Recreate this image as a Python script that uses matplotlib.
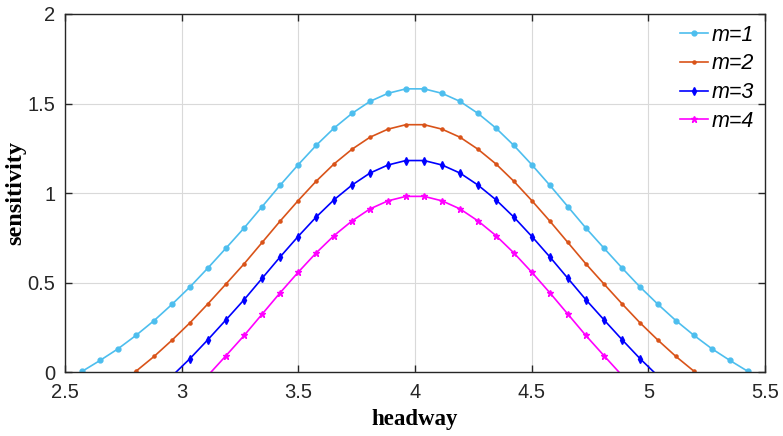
import matplotlib
matplotlib.use('Agg')
import matplotlib.pyplot as plt
import numpy as np

headway = [2.574, 2.651, 2.728, 2.805, 2.882, 2.959, 3.036, 3.113, 3.190, 3.268,
           3.345, 3.422, 3.499, 3.576, 3.653, 3.730, 3.807, 3.884, 3.961, 4.039,
           4.116, 4.193, 4.270, 4.347, 4.424, 4.501, 4.578, 4.655, 4.732, 4.810,
           4.887, 4.964, 5.041, 5.118, 5.195, 5.272, 5.349, 5.426]

sens_m1 = [0.006, 0.067, 0.132, 0.207, 0.289, 0.380, 0.477, 0.583, 0.693, 0.806,
           0.925, 1.044, 1.158, 1.266, 1.363, 1.445, 1.512, 1.557, 1.582, 1.582,
           1.557, 1.512, 1.445, 1.363, 1.266, 1.158, 1.044, 0.925, 0.806, 0.693,
           0.583, 0.477, 0.380, 0.289, 0.207, 0.132, 0.067, 0.006]
sens_m2 = [-0.194, -0.133, -0.068, 0.007, 0.089, 0.180, 0.277, 0.383, 0.493, 0.606,
           0.725, 0.844, 0.958, 1.066, 1.163, 1.245, 1.312, 1.357, 1.382, 1.382,
           1.357, 1.312, 1.245, 1.163, 1.066, 0.958, 0.844, 0.725, 0.606, 0.493,
           0.383, 0.277, 0.180, 0.089, 0.007, -0.068, -0.133, -0.194]
sens_m3 = [-0.394, -0.333, -0.268, -0.193, -0.111, -0.020, 0.077, 0.183, 0.293, 0.406,
           0.525, 0.644, 0.758, 0.866, 0.963, 1.045, 1.112, 1.157, 1.182, 1.182,
           1.157, 1.112, 1.045, 0.963, 0.866, 0.758, 0.644, 0.525, 0.406, 0.293,
           0.183, 0.077, -0.020, -0.111, -0.193, -0.268, -0.333, -0.394]
sens_m4 = [-0.594, -0.533, -0.468, -0.393, -0.311, -0.220, -0.123, -0.017, 0.093, 0.206,
           0.325, 0.444, 0.558, 0.666, 0.763, 0.845, 0.912, 0.957, 0.982, 0.982,
           0.957, 0.912, 0.845, 0.763, 0.666, 0.558, 0.444, 0.325, 0.206, 0.093,
           -0.017, -0.123, -0.220, -0.311, -0.393, -0.468, -0.533, -0.594]

labels = ['m=1', 'm=2', 'm=3', 'm=4']
colors = ['#4DBEEE', '#D95319', '#0000FF', '#FF00FF']
markers = ['o', '.', 'd', '*']
msizes = [3.5, 4.5, 4, 4.5]

fig = plt.figure(figsize=(7.83, 4.36), dpi=100)
ax = fig.add_axes([0.083, 0.146, 0.894, 0.822])

for ys, lab, col, mk, ms in zip([sens_m1, sens_m2, sens_m3, sens_m4], labels, colors, markers, msizes):
    # markers only where the point lies inside the y range, as in the original
    visible = [i for i, v in enumerate(ys) if v >= 0]
    ax.plot(headway, ys, color=col, lw=1.2, marker=mk, ms=ms, markevery=visible,
            markerfacecolor=col, markeredgecolor=col, label=lab)

ax.set_xlim(2.5, 5.5)
ax.set_ylim(0, 2)
ax.set_xticks([2.5, 3, 3.5, 4, 4.5, 5, 5.5])
ax.set_xticklabels(['2.5', '3', '3.5', '4', '4.5', '5', '5.5'])
ax.set_yticks([0, 0.5, 1, 1.5, 2])
ax.set_yticklabels(['0', '0.5', '1', '1.5', '2'])
ax.grid(True, color='#d9d9d9', lw=0.8)
ax.set_axisbelow(True)
ax.tick_params(direction='in', top=True, right=True, length=5, width=1, colors='#262626',
               labelsize=14.5)
ax.tick_params(axis='x', pad=8)
ax.tick_params(axis='y', pad=7)
for lbl in ax.get_xticklabels() + ax.get_yticklabels():
    lbl.set_family('Liberation Sans')
for sp in ax.spines.values():
    sp.set_color('#262626')
    sp.set_linewidth(1)

ax.set_xlabel('headway', family='Liberation Serif', fontweight='bold', fontsize=16.5, labelpad=5)
ax.set_ylabel('sensitivity', family='Liberation Serif', fontweight='bold', fontsize=17.5, labelpad=1)

leg = ax.legend(loc='upper right', frameon=False, handlelength=1.3, handletextpad=0.2,
                labelspacing=0.36, borderaxespad=0.1,
                prop={'family': 'Liberation Sans', 'style': 'italic', 'size': 15.5})

fig.savefig('out.png', dpi=100)
